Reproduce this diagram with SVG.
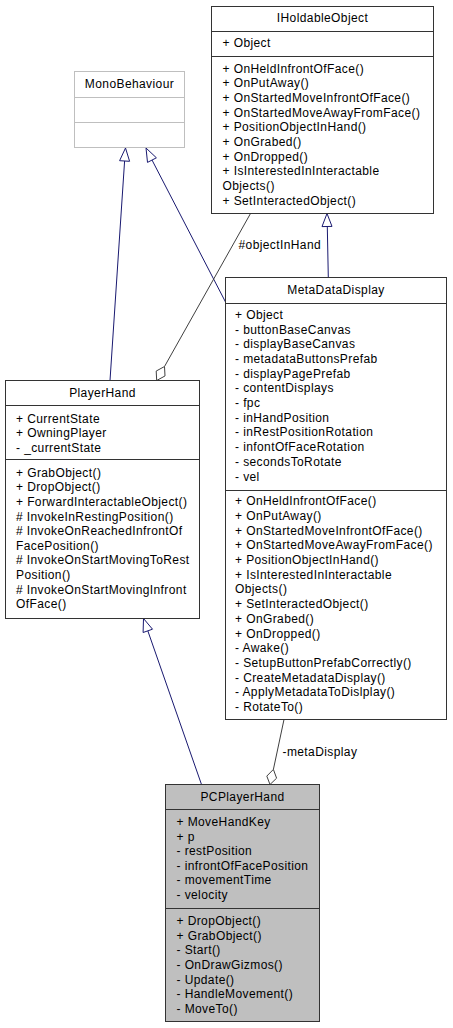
<svg xmlns="http://www.w3.org/2000/svg" width="453" height="1028" viewBox="0 0 453 1028">
<style>
text{font-family:"Liberation Sans",Arial,sans-serif;font-size:12px;letter-spacing:0.4px;fill:#000}
.t{text-anchor:middle}
.box{fill:#fff;stroke:#333;stroke-width:1}
.div{stroke:#333;stroke-width:1}
.gbox{fill:#fff;stroke:#bfbfbf;stroke-width:1}
.gdiv{stroke:#bfbfbf;stroke-width:1}
.inh{stroke:#191970;stroke-width:1;fill:none}
.tri{stroke:#191970;stroke-width:1;fill:#fff}
.agg{stroke:#404040;stroke-width:1;fill:none}
.dia{stroke:#404040;stroke-width:1;fill:#fff}
</style>
<rect width="453" height="1028" fill="#fff"/>
<g id="connectors">
  <line class="inh" x1="124.6" y1="161" x2="110" y2="380.5"/>
  <polygon class="tri" points="125.5,148 129.6,161.3 119.6,160.7"/>
  <line class="inh" x1="152" y1="160" x2="225.5" y2="302"/>
  <polygon class="tri" points="146,148 156.4,157.8 147.5,162.4"/>
  <line class="inh" x1="327.3" y1="226.5" x2="328.3" y2="277.5"/>
  <polygon class="tri" points="327,213.5 332,226.4 322,226.6"/>
  <line class="inh" x1="147.8" y1="630.8" x2="201.5" y2="784.5"/>
  <polygon class="tri" points="143.5,618.5 152.5,629.2 143.1,632.5"/>
  <line class="agg" x1="164.5" y1="366.5" x2="250.5" y2="213.5"/>
  <polygon class="dia" points="156.7,380.5 165,375.95 164.5,366.5 156.2,371.05"/>
  <text x="238.5" y="248.8">#objectInHand</text>
  <line class="agg" x1="273.4" y1="769.4" x2="284" y2="719.5"/>
  <polygon class="dia" points="270,784.5 276.6,778.2 273.4,769.4 266.8,776.1"/>
  <text x="282.5" y="756">-metaDisplay</text>
</g>
<g id="MonoBehaviour">
  <rect class="gbox" x="74.5" y="71.5" width="110" height="76"/>
  <line class="gdiv" x1="74.5" y1="97.5" x2="184.5" y2="97.5"/>
  <line class="gdiv" x1="74.5" y1="122.5" x2="184.5" y2="122.5"/>
  <text class="t" x="129.5" y="88">MonoBehaviour</text>
</g>
<g id="IHoldableObject">
  <rect class="box" x="211.5" y="6.5" width="222" height="207"/>
  <line class="div" x1="211.5" y1="31.5" x2="433.5" y2="31.5"/>
  <line class="div" x1="211.5" y1="56.5" x2="433.5" y2="56.5"/>
  <text class="t" x="322.5" y="22">IHoldableObject</text>
  <text x="222.5" y="47">+ Object</text>
  <text x="222.5" y="72.5">+ OnHeldInfrontOfFace()</text>
  <text x="222.5" y="87.2">+ OnPutAway()</text>
  <text x="222.5" y="101.9">+ OnStartedMoveInfrontOfFace()</text>
  <text x="222.5" y="116.6">+ OnStartedMoveAwayFromFace()</text>
  <text x="222.5" y="131.3">+ PositionObjectInHand()</text>
  <text x="222.5" y="146">+ OnGrabed()</text>
  <text x="222.5" y="160.7">+ OnDropped()</text>
  <text x="222.5" y="175.4">+ IsInterestedInInteractable</text>
  <text x="222.5" y="190.1">Objects()</text>
  <text x="222.5" y="204.8">+ SetInteractedObject()</text>
</g>
<g id="MetaDataDisplay">
  <rect class="box" x="225.5" y="277.5" width="221" height="442"/>
  <line class="div" x1="225.5" y1="303.5" x2="446.5" y2="303.5"/>
  <line class="div" x1="225.5" y1="490.5" x2="446.5" y2="490.5"/>
  <text class="t" x="336" y="294">MetaDataDisplay</text>
  <text x="235" y="318.8">+ Object</text>
  <text x="235" y="333.5">- buttonBaseCanvas</text>
  <text x="235" y="348.2">- displayBaseCanvas</text>
  <text x="235" y="362.9">- metadataButtonsPrefab</text>
  <text x="235" y="377.6">- displayPagePrefab</text>
  <text x="235" y="392.3">- contentDisplays</text>
  <text x="235" y="407">- fpc</text>
  <text x="235" y="421.7">- inHandPosition</text>
  <text x="235" y="436.4">- inRestPositionRotation</text>
  <text x="235" y="451.1">- infontOfFaceRotation</text>
  <text x="235" y="465.8">- secondsToRotate</text>
  <text x="235" y="480.5">- vel</text>
  <text x="235" y="505.2">+ OnHeldInfrontOfFace()</text>
  <text x="235" y="519.9">+ OnPutAway()</text>
  <text x="235" y="534.6">+ OnStartedMoveInfrontOfFace()</text>
  <text x="235" y="549.3">+ OnStartedMoveAwayFromFace()</text>
  <text x="235" y="564">+ PositionObjectInHand()</text>
  <text x="235" y="578.7">+ IsInterestedInInteractable</text>
  <text x="235" y="593.4">Objects()</text>
  <text x="235" y="608.1">+ SetInteractedObject()</text>
  <text x="235" y="622.8">+ OnGrabed()</text>
  <text x="235" y="637.5">+ OnDropped()</text>
  <text x="235" y="652.2">- Awake()</text>
  <text x="235" y="666.9">- SetupButtonPrefabCorrectly()</text>
  <text x="235" y="681.6">- CreateMetadataDisplay()</text>
  <text x="235" y="696.3">- ApplyMetadataToDislplay()</text>
  <text x="235" y="711">- RotateTo()</text>
</g>
<g id="PlayerHand">
  <rect class="box" x="5.5" y="380.5" width="194" height="238"/>
  <line class="div" x1="5.5" y1="405.5" x2="199.5" y2="405.5"/>
  <line class="div" x1="5.5" y1="459.5" x2="199.5" y2="459.5"/>
  <text class="t" x="102.5" y="397">PlayerHand</text>
  <text x="16" y="422.5">+ CurrentState</text>
  <text x="16" y="437.2">+ OwningPlayer</text>
  <text x="16" y="451.9">- _currentState</text>
  <text x="16" y="476.8">+ GrabObject()</text>
  <text x="16" y="491.4">+ DropObject()</text>
  <text x="16" y="506">+ ForwardInteractableObject()</text>
  <text x="16" y="520.6"># InvokeInRestingPosition()</text>
  <text x="16" y="535.2"># InvokeOnReachedInfrontOf</text>
  <text x="16" y="549.8">FacePosition()</text>
  <text x="16" y="564.4"># InvokeOnStartMovingToRest</text>
  <text x="16" y="579">Position()</text>
  <text x="16" y="593.6"># InvokeOnStartMovingInfront</text>
  <text x="16" y="608.2">OfFace()</text>
</g>
<g id="PCPlayerHand">
  <rect x="165.5" y="784.5" width="154" height="237" fill="#bfbfbf" stroke="#333"/>
  <line class="div" x1="165.5" y1="809.5" x2="319.5" y2="809.5"/>
  <line class="div" x1="165.5" y1="908.5" x2="319.5" y2="908.5"/>
  <text class="t" x="242.5" y="800.5">PCPlayerHand</text>
  <text x="176.5" y="826.2">+ MoveHandKey</text>
  <text x="176.5" y="840.7">+ p</text>
  <text x="176.5" y="855.2">- restPosition</text>
  <text x="176.5" y="869.7">- infrontOfFacePosition</text>
  <text x="176.5" y="884.2">- movementTime</text>
  <text x="176.5" y="898.7">- velocity</text>
  <text x="176.5" y="925.2">+ DropObject()</text>
  <text x="176.5" y="939.8">+ GrabObject()</text>
  <text x="176.5" y="954.4">- Start()</text>
  <text x="176.5" y="969">- OnDrawGizmos()</text>
  <text x="176.5" y="983.6">- Update()</text>
  <text x="176.5" y="998.2">- HandleMovement()</text>
  <text x="176.5" y="1012.8">- MoveTo()</text>
</g>
</svg>
